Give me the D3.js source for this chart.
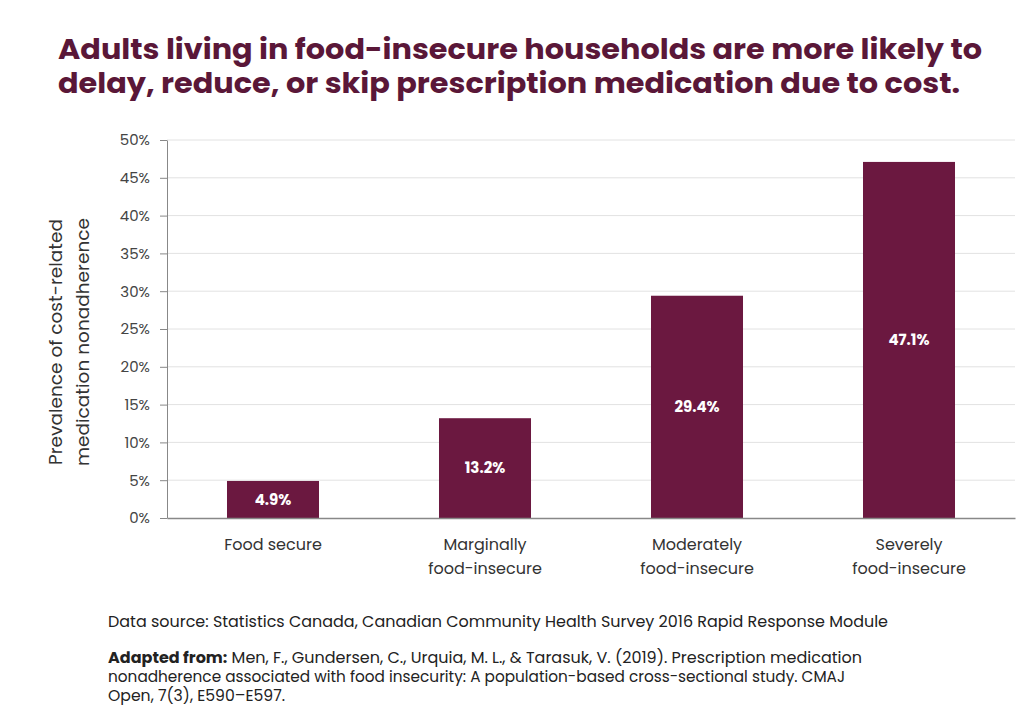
<!DOCTYPE html>
<html><head><meta charset="utf-8">
<script src="https://cdn.jsdelivr.net/npm/d3@7/dist/d3.min.js"></script>
<style>body{margin:0;background:#fff;} svg{display:block;}</style>
</head><body>
<svg id="c" width="1024" height="720"></svg>
<script>
const categories = [["Food secure"], ["Marginally", "food-insecure"], ["Moderately", "food-insecure"], ["Severely", "food-insecure"]];
const values = [4.9, 13.2, 29.4, 47.1];
const valueLabels = ["4.9%", "13.2%", "29.4%", "47.1%"];
const yTicks = [0, 5, 10, 15, 20, 25, 30, 35, 40, 45, 50];
const titleLines = ["Adults living in food-insecure households are more likely to", "delay, reduce, or skip prescription medication due to cost."];
const yTitleLines = ["Prevalence of cost-related", "medication nonadherence"];

const svg = d3.select("#c");
const maroon = "#6b1840";
const font = "Poppins, 'Open Sans', 'Noto Sans', sans-serif";

const plotLeft = 167, plotRight = 1015, plotTop = 140, plotBottom = 518;
const x = d3.scaleBand().domain(d3.range(values.length)).range([plotLeft, plotRight]).paddingInner(0.566).paddingOuter(0.283);
const y = d3.scaleLinear().domain([0, 50]).range([plotBottom, plotTop]);

// title (one text element, two lines)
const tl = [[58, 59, 924], [58, 93, 902]];
const title = svg.append("text").attr("fill", "#5a1738")
  .attr("font-family", font).attr("font-weight", 700).attr("font-size", 28);
titleLines.forEach((t, i) => {
  title.append("tspan").attr("x", tl[i][0]).attr("y", tl[i][1])
    .attr("textLength", tl[i][2]).attr("lengthAdjust", "spacingAndGlyphs").text(t);
});

// gridlines
svg.append("g").selectAll("line").data(yTicks.filter(d => d > 0)).join("line")
  .attr("x1", plotLeft).attr("x2", plotRight).attr("y1", d => y(d)).attr("y2", d => y(d))
  .attr("stroke", "#e2e2e2").attr("stroke-width", 1);

// y axis
const ya = svg.append("g").attr("transform", `translate(${plotLeft},0)`)
  .call(d3.axisLeft(y).tickValues(yTicks).tickFormat(d => d + "%").tickSize(7).tickPadding(10).tickSizeOuter(0));
ya.select(".domain").attr("stroke", "#888");
ya.selectAll(".tick line").attr("stroke", "#888");
ya.selectAll("text").attr("font-family", font).attr("font-size", 15).attr("fill", "#444");

// bars
svg.append("g").selectAll("rect").data(values).join("rect")
  .attr("x", (d, i) => x(i)).attr("width", x.bandwidth())
  .attr("y", d => y(d)).attr("height", d => y(0) - y(d))
  .attr("fill", maroon);

// value labels
svg.append("g").selectAll("text").data(values).join("text")
  .attr("x", (d, i) => x(i) + x.bandwidth() / 2)
  .attr("y", d => (y(d) + y(0)) / 2).attr("dy", "0.35em")
  .attr("text-anchor", "middle").attr("fill", "#fff")
  .attr("font-family", font).attr("font-weight", 700).attr("font-size", 15)
  .text((d, i) => valueLabels[i]);

// x axis
const xa = svg.append("g").attr("transform", `translate(0,${plotBottom})`)
  .call(d3.axisBottom(x).tickSize(0).tickFormat(""));
xa.select(".domain").attr("stroke", "#888").attr("stroke-width", 1.5);
xa.selectAll(".tick").each(function(d) {
  const t = d3.select(this).append("text").attr("fill", "#333")
    .attr("font-family", font).attr("font-size", 16).attr("text-anchor", "middle");
  categories[d].forEach((line, j) => {
    t.append("tspan").attr("x", 0).attr("y", 32 + j * 24).text(line);
  });
});

// y axis title
const yt = svg.append("text").attr("transform", "translate(0,342) rotate(-90)")
  .attr("text-anchor", "middle").attr("fill", "#333")
  .attr("font-family", font).attr("font-size", 18.5);
yTitleLines.forEach((l, j) => yt.append("tspan").attr("x", 0).attr("y", 62 + j * 27).text(l));

// footnotes
svg.append("text").attr("x", 108).attr("y", 627).attr("fill", "#222")
  .attr("font-family", font).attr("font-size", 15.5)
  .attr("textLength", 780).attr("lengthAdjust", "spacingAndGlyphs")
  .text("Data source: Statistics Canada, Canadian Community Health Survey 2016 Rapid Response Module");

const fn = svg.append("text").attr("x", 108).attr("y", 663).attr("fill", "#222")
  .attr("font-family", font).attr("font-size", 15.5)
  .attr("textLength", 754).attr("lengthAdjust", "spacingAndGlyphs");
fn.append("tspan").attr("font-weight", 700).text("Adapted from:");
fn.append("tspan").text(" Men, F., Gundersen, C., Urquia, M. L., & Tarasuk, V. (2019). Prescription medication");
svg.append("text").attr("x", 108).attr("y", 682).attr("fill", "#222")
  .attr("font-family", font).attr("font-size", 15.5)
  .attr("textLength", 737).attr("lengthAdjust", "spacingAndGlyphs")
  .text("nonadherence associated with food insecurity: A population-based cross-sectional study. CMAJ");
svg.append("text").attr("x", 108).attr("y", 701).attr("fill", "#222")
  .attr("font-family", font).attr("font-size", 15.5)
  .attr("textLength", 177).attr("lengthAdjust", "spacingAndGlyphs")
  .text("Open, 7(3), E590–E597.");
</script>
</body></html>
